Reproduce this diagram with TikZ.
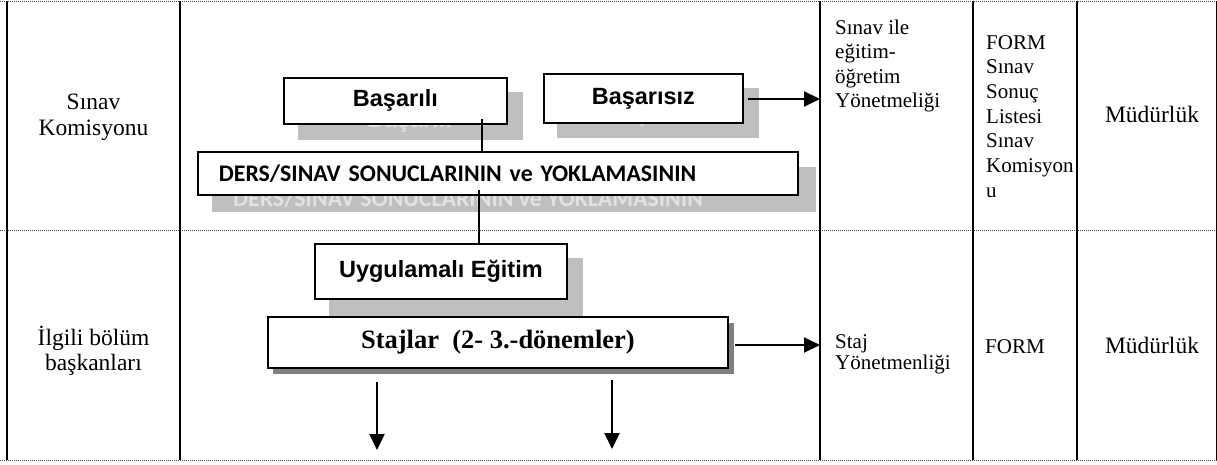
\documentclass[tikz,border=0pt]{standalone}
\usepackage{fontspec}
\setmainfont{Liberation Serif}
\newfontfamily\arialf{Liberation Sans}
\newfontfamily\calibrif{Carlito}
\usetikzlibrary{arrows.meta}
\definecolor{shadowgray}{HTML}{BFBFBF}
\definecolor{ghostgray}{HTML}{E2E2E2}
\definecolor{darkshadow}{HTML}{808080}
\begin{document}
\begin{tikzpicture}[x=1pt,y=-1pt,
  tline/.style={line width=1.6pt},
  thinline/.style={line width=1pt},
  dotline/.style={line width=0.8pt, dash pattern=on 1pt off 1pt, black!70},
  boxn/.style={draw, line width=1.8pt, fill=white, inner sep=0pt, anchor=north west},
  shadn/.style={fill=shadowgray, inner sep=0pt, anchor=north west},
  ghost/.style={text=ghostgray, inner sep=0pt, anchor=base},
  arialtxt/.style={font=\arialf\bfseries\fontsize{23.5}{27}\selectfont},
  calibritxt/.style={font=\calibrif\bfseries\fontsize{23.8}{27}\selectfont},
  conn/.style={line width=2pt},
  arr/.style={line width=2pt, -{Triangle[length=16pt,width=15pt]}},
  lefttxt/.style={font=\fontsize{23.5}{26}\selectfont, align=center, inner sep=0pt, anchor=base},
  celltxt/.style={font=\fontsize{21}{24.6}\selectfont, align=left, inner sep=0pt, anchor=base west},
  mudtxt/.style={font=\fontsize{23.5}{27}\selectfont, inner sep=0pt, anchor=base},
]
\useasboundingbox (0,0) rectangle (1217,465);
% table grid
\draw[dotline] (0,1) -- (1217,1);
\draw[dotline] (0,230.5) -- (1217,230.5);
\draw[dotline] (0,460) -- (1217,460);
\foreach \xx in {7,180,820,973,1077} {\draw[tline] (\xx,1) -- (\xx,460);}
\draw[thinline] (1216,1) -- (1216,460);

% left column (anchor = baseline of the last line)
\node[lefttxt] (sk) at (93.5,136) {Sınav\\Komisyonu};
\node[lefttxt, font=\fontsize{23.5}{24.5}\selectfont] (ib) at (93.5,370) {İlgili bölüm\\başkanları};

% shadows with their ghost texts
\node[shadn, minimum width=225pt, minimum height=48pt] (basariliS) at (298,92) {};
\node[ghost, arialtxt] (basariliG) at (409.5,128) {Başarılı};
\node[shadn, minimum width=202pt, minimum height=50pt] (basarisizS) at (557,88) {};
\node[ghost, arialtxt] (basarisizG) at (657.5,122) {Başarısız};
\node[shadn, minimum width=604pt, minimum height=45pt] (dersS) at (212,167) {};
\node[ghost, anchor=base west, calibritxt] (dersG) at (233,207) {DERS/SINAV SONUCLARININ ve YOKLAMASININ};
\node[shadn, minimum width=254pt, minimum height=58pt] (uygS) at (329,258) {};
\node[shadn, fill=darkshadow, minimum width=461pt, minimum height=51pt] (stajS) at (273,323) {};

% boxes
\node[boxn, minimum width=223pt, minimum height=46pt, arialtxt] (basarili) at (283,77) {Başarılı};
\node[boxn, minimum width=199pt, minimum height=49pt, arialtxt] (basarisiz) at (543,73) {Başarısız};
\node[boxn, minimum height=43pt, inner xsep=21pt, text width=558pt, align=left, calibritxt] (ders) at (197,151) {DERS/SINAV SONUCLARININ ve YOKLAMASININ};
\node[boxn, minimum width=252pt, minimum height=55pt, arialtxt] (uyg) at (314,243) {Uygulamalı Eğitim};
\node[boxn, minimum width=460pt, minimum height=51pt, font=\bfseries\fontsize{26.5}{30}\selectfont] (staj) at (267,316) {Stajlar\ \ (2- 3.-dönemler)};

% connectors
\coordinate (c1) at (482,119);
\draw[conn] (c1) -- (c1 |- ders.north);
\coordinate (c2) at (479,190);
\draw[conn] (c2) -- (c2 |- uyg.north);
\coordinate (a1s) at (748,99);
\coordinate (a1e) at (820,99);
\draw[arr] (a1s) -- (a1e);
\coordinate (a2s) at (735,345);
\coordinate (a2e) at (820,345);
\draw[arr] (a2s) -- (a2e);
\coordinate (d1s) at (377,382);
\coordinate (d1e) at (377,450);
\draw[arr] (d1s) -- (d1e);
\coordinate (d2s) at (612,380);
\coordinate (d2e) at (612,449);
\draw[arr] (d2s) -- (d2e);

% right columns (anchor = baseline of the last line)
\node[celltxt] (law1) at (835,108) {Sınav ile\\eğitim-\\öğretim\\Yönetmeliği};
\node[celltxt] (form1) at (986,197) {FORM\\Sınav\\Sonuç\\Listesi\\Sınav\\Komisyon\\u};
\node[mudtxt] (mud1) at (1152,123) {Müdürlük};
\node[celltxt, font=\fontsize{21}{21}\selectfont] (law2) at (835,369) {Staj\\Yönetmenliği};
\node[celltxt] (form2) at (985,353) {FORM};
\node[mudtxt] (mud2) at (1152,353) {Müdürlük};
\end{tikzpicture}
\end{document}
